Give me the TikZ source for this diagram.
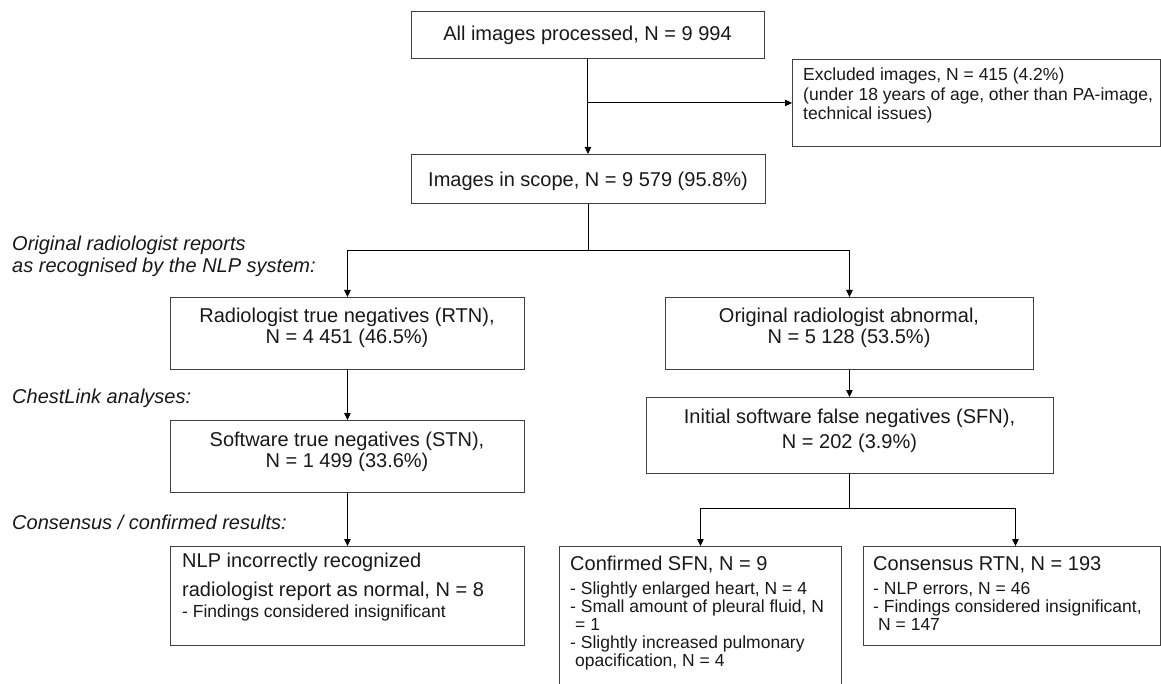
\documentclass[tikz,border=0pt]{standalone}
\usepackage{fontspec}
\setmainfont{Liberation Sans}
\usetikzlibrary{arrows.meta,calc}
\begin{document}
\begin{tikzpicture}[x=1pt,y=-1pt,
  box/.style={draw=black!75, line width=0.9pt, rectangle, inner sep=0, anchor=north west},
  conn/.style={line width=1pt, draw=black},
  arr/.style={conn, -{Triangle[length=7pt,width=6.5pt]}},
  big/.style={font=\fontsize{20}{21}\selectfont, text=black!90, inner sep=0},
  small/.style={font=\fontsize{17.5}{18}\selectfont, text=black!90, inner sep=0},
  side/.style={font=\fontsize{20}{22}\selectfont\itshape, inner sep=0, anchor=base west, text=black!90}
]
\useasboundingbox (0,0) rectangle (1161,684);
\fill[white] (0,0) rectangle (1161,684);

% boxes
\node[box, minimum width=353pt, minimum height=47.3pt] (A) at (411,10.7) {};
\node[box, minimum width=354pt, minimum height=49pt] (B) at (411,154) {};
\node[box, minimum width=368pt, minimum height=87pt] (Ex) at (792,59) {};
\node[box, minimum width=354pt, minimum height=72pt] (RTN) at (170,297) {};
\node[box, minimum width=368pt, minimum height=72pt] (ABN) at (665,297) {};
\node[box, minimum width=354pt, minimum height=72pt] (STN) at (170,420) {};
\node[box, minimum width=407pt, minimum height=76pt] (SFN) at (646,397) {};
\node[box, minimum width=354pt, minimum height=99pt] (NLP) at (170,546) {};
\node[box, minimum width=282pt, minimum height=150pt] (CONF) at (559,546) {};
\node[box, minimum width=297pt, minimum height=99pt] (CONS) at (863,546) {};

% texts
\node[big, anchor=base] (tA) at (587.5,40.7) {All images processed, N = 9 994};
\node[big, anchor=base] (tB) at (588,186.7) {Images in scope, N = 9 579 (95.8\%)};
\node[small, anchor=base west] (tEx) at (803,81) {\begin{tabular}[t]{@{}l@{}}Excluded images, N = 415 (4.2\%)\\[1pt](under 18 years of age, other than PA-image,\\[1pt]technical issues)\end{tabular}};
\node[big, anchor=base] (tRTN) at (347,322.7) {\begin{tabular}[t]{@{}c@{}}Radiologist true negatives (RTN),\\N = 4 451 (46.5\%)\end{tabular}};
\node[big, anchor=base] (tABN) at (849,323) {\begin{tabular}[t]{@{}c@{}}Original radiologist abnormal,\\N = 5 128 (53.5\%)\end{tabular}};
\node[big, anchor=base] (tSTN) at (347,446) {\begin{tabular}[t]{@{}c@{}}Software true negatives (STN),\\N = 1 499 (33.6\%)\end{tabular}};
\node[big, anchor=base] (tSFN) at (849.5,423) {\begin{tabular}[t]{@{}c@{}}Initial software false negatives (SFN),\\[4pt]N = 202 (3.9\%)\end{tabular}};
\node[big, anchor=base west] (tNLP) at (182,567) {\begin{tabular}[t]{@{}l@{}}NLP incorrectly recognized\\[8pt]radiologist report as normal, N = 8\\{\fontsize{17.5}{18}\selectfont - Findings considered insignificant}\end{tabular}};
\node[small, anchor=base west] (tCONF) at (570,570) {\begin{tabular}[t]{@{}l@{}}{\fontsize{20}{21}\selectfont Confirmed SFN, N = 9}\\[6pt]- Slightly enlarged heart, N = 4\\- Small amount of pleural fluid, N\\\hspace*{5pt}= 1\\- Slightly increased pulmonary\\\hspace*{5pt}opacification, N = 4\end{tabular}};
\node[small, anchor=base west] (tCONS) at (873,570) {\begin{tabular}[t]{@{}l@{}}{\fontsize{20}{21}\selectfont Consensus RTN, N = 193}\\[6pt]- NLP errors, N = 46\\- Findings considered insignificant,\\\hspace*{5pt}N = 147\end{tabular}};

% side labels
\node[side] (L1) at (12,251) {\begin{tabular}[t]{@{}l@{}}Original radiologist reports\\as recognised by the NLP system:\end{tabular}};
\node[side] (L2) at (12,403) {ChestLink analyses:};
\node[side] (L3) at (12,529) {Consensus / confirmed results:};

% connectors
\draw[arr] (A.south) -- (A.south |- B.north);
\draw[arr] (A.south |- Ex.west) -- (Ex.west);
\draw[arr] (B.south) -- ++(0,47) -| (RTN.north);
\draw[arr] (B.south) -- ++(0,47) -| (ABN.north);
\draw[arr] (RTN.south) -- (STN.north);
\draw[arr] (ABN.south) -- (ABN.south |- SFN.north);
\draw[arr] (STN.south) -- (NLP.north);
\draw[arr] (SFN.south) -- ++(0,35) -| (CONF.north);
\draw[arr] (SFN.south) -- ++(0,35) -| ($(CONS.north)+(3.5,0)$);
\end{tikzpicture}
\end{document}
